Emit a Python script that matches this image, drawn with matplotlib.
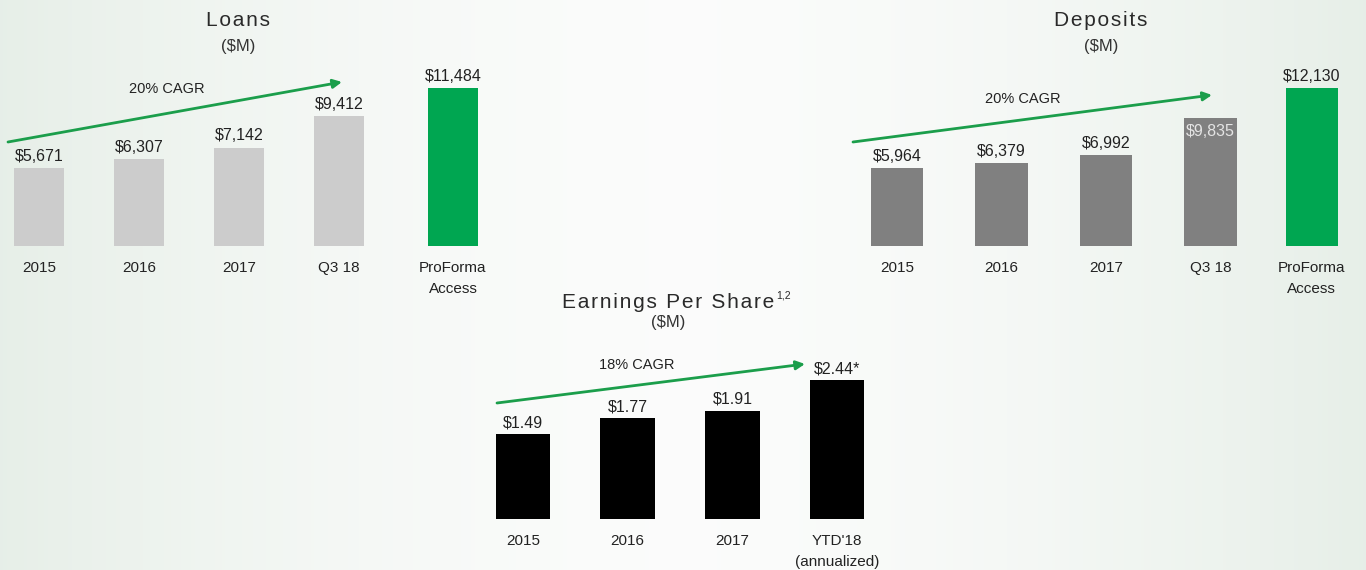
import numpy as np
import matplotlib
matplotlib.use("Agg")
import matplotlib.pyplot as plt

# values in $M
loan_cats = ["2015", "2016", "2017", "Q3 18", "ProForma\nAccess"]
loan_vals = [5671, 6307, 7142, 9412, 11484]

dep_cats = ["2015", "2016", "2017", "Q3 18", "ProForma\nAccess"]
dep_vals = [5964, 6379, 6992, 9835, 12130]

eps_cats = ["2015", "2016", "2017", "YTD'18\n(annualized)"]
eps_vals = [1.49, 1.77, 1.91, 2.44]
eps_labels = ["$1.49", "$1.77", "$1.91", "$2.44*"]

GREEN = "#00a651"
ARROW = "#1b9e4b"
TXT = "#222222"
FONT = ["Liberation Sans", "DejaVu Sans"]

W, H = 1366, 570
fig = plt.figure(figsize=(W / 100, H / 100), dpi=100)

# soft green tint towards the left and right edges
bg = fig.add_axes([0, 0, 1, 1], zorder=-10)
t = np.abs(np.linspace(-1, 1, 400)) ** 1.6
edge = np.array([0.905, 0.937, 0.910])
mid = np.array([0.985, 0.988, 0.985])
row = mid + (edge - mid) * t[:, None]
bg.imshow(np.tile(row[None, :, :], (10, 1, 1)), aspect="auto", extent=[0, 1, 0, 1])
bg.axis("off")


def px_axes(left, base, width, height):
    # left/width in pixels, base = bar baseline in pixels from top
    return fig.add_axes([left / W, 1 - base / H, width / W, height / H])


def fp(x, y):
    return (x / W, 1 - y / H)


def clean(ax):
    for s in ax.spines.values():
        s.set_visible(False)
    ax.set_yticks([])
    ax.patch.set_alpha(0)
    ax.tick_params(axis="x", length=0, pad=10.5, labelsize=11, labelcolor=TXT)
    for lab in ax.get_xticklabels():
        lab.set_family(FONT)
        lab.set_linespacing(1.7)


def value_labels(ax, xs, vals, texts, inside=None):
    for i, (x, v, s) in enumerate(zip(xs, vals, texts)):
        if i == inside:
            ax.annotate(s, (x, v), xytext=(0, -4), textcoords="offset points",
                        ha="center", va="top", fontsize=11.5, family=FONT, color="#e4e4e4")
        else:
            ax.annotate(s, (x, v), xytext=(0, 3), textcoords="offset points",
                        ha="center", va="bottom", fontsize=11.5, family=FONT, color=TXT)


def cagr_arrow(start, end, label, label_pos):
    ann = bg.annotate("", xy=fp(*end), xycoords="figure fraction",
                      xytext=fp(*start), textcoords="figure fraction",
                      arrowprops=dict(arrowstyle="-|>", color=ARROW, lw=2,
                                      mutation_scale=13, shrinkA=0, shrinkB=0))
    ann.set_zorder(5)
    fig.text(*fp(*label_pos), label, ha="center", va="center",
             fontsize=10.5, family=FONT, color=TXT)


def title(x, y, text, sub_y):
    spaced = "\u200a".join(text)
    tt = fig.text(*fp(x, y), spaced, ha="center", va="center",
                  fontsize=15, family=FONT, color="#2a2a2a")
    fig.text(*fp(x, sub_y), "($M)", ha="center", va="center",
             fontsize=12, family=FONT, color="#333333")
    return tt


# Loans
ax1 = px_axes(0, 246, 500, 193)
x1 = [0, 1, 2, 3, 4.14]
ax1.bar(x1, loan_vals, width=0.5, color=["#cccccc"] * 4 + [GREEN])
ax1.set_xlim(-0.39, 4.61)
ax1.set_ylim(0, 14000)
ax1.set_xticks(x1, loan_cats)
clean(ax1)
value_labels(ax1, x1, loan_vals, [f"${v:,}" for v in loan_vals])

# Deposits
ax2 = px_axes(844.75, 246, 522.5, 195)
x2 = [0, 1, 2, 3, 3.97]
ax2.bar(x2, dep_vals, width=0.5, color=["#808080"] * 4 + [GREEN])
ax2.set_xlim(-0.5, 4.5)
ax2.set_ylim(0, 15000)
ax2.set_xticks(x2, dep_cats)
clean(ax2)
value_labels(ax2, x2, dep_vals, [f"${v:,}" for v in dep_vals], inside=3)

# Earnings per share
ax3 = px_axes(470.65, 519, 418.8, 198.8)
x3 = [0, 1, 2, 3]
ax3.bar(x3, eps_vals, width=0.52, color="black")
ax3.set_xlim(-0.5, 3.5)
ax3.set_ylim(0, 3.5)
ax3.set_xticks(x3, eps_cats)
clean(ax3)
value_labels(ax3, x3, eps_vals, eps_labels)

# titles
title(238, 20, "Loans", 46)
title(1101, 20, "Deposits", 46)
et = title(668, 302, "Earnings Per Share", 322)
bg.annotate("1,2", xy=(1, 0.6), xycoords=et, xytext=(1.5, 0),
            textcoords="offset points", ha="left", va="bottom",
            fontsize=7.5, family=FONT, color="#2a2a2a")

# growth arrows
cagr_arrow((8, 142), (342, 82), "20% CAGR", (167, 89))
cagr_arrow((853, 142), (1212, 95), "20% CAGR", (1023, 99))
cagr_arrow((497, 403), (805, 364), "18% CAGR", (637, 365))

fig.savefig("out.png", dpi=100)
